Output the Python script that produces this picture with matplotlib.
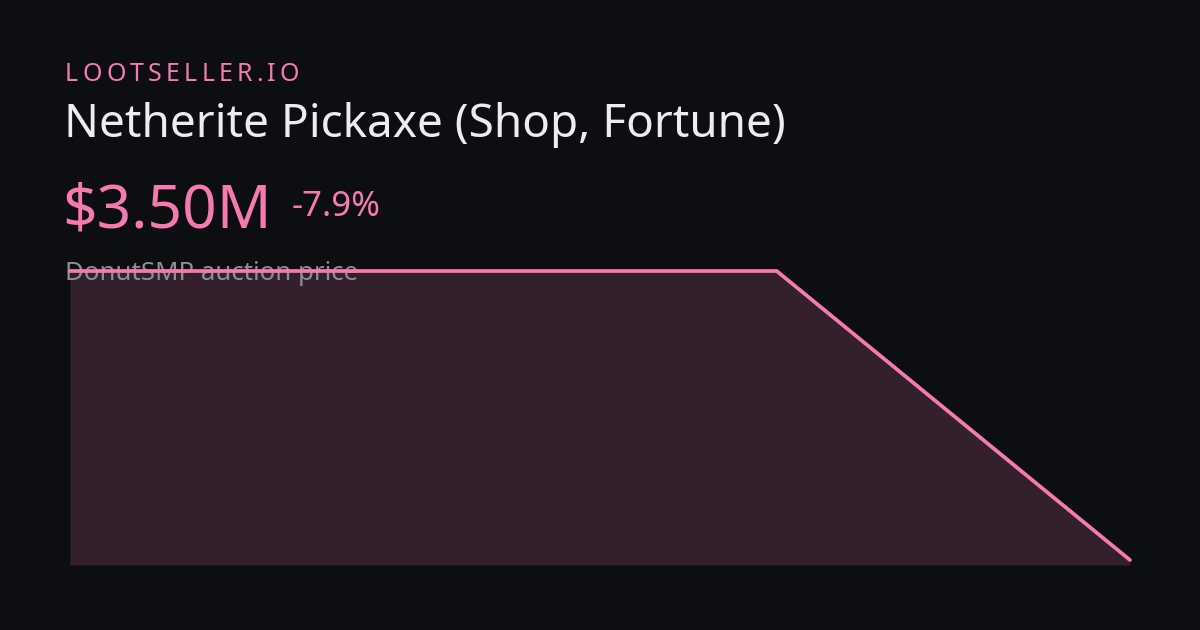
import matplotlib
matplotlib.use("Agg")
import matplotlib.pyplot as plt

# price points (millions), oldest first
prices = [3.80, 3.80, 3.80, 3.50]
points = list(range(len(prices)))

brand = "LOOTSELLER.IO"
title = "Netherite Pickaxe (Shop, Fortune)"
price_label = "$3.50M"
change_label = "-7.9%"
subtitle = "DonutSMP auction price"

bg = "#0d0e12"
pink = "#f47aaf"
fill_col = "#33202c"

plt.rcParams['font.family'] = ['Noto Sans', 'DejaVu Sans']

W, H = 1200, 630
fig = plt.figure(figsize=(12, 6.3), dpi=100)
fig.patch.set_facecolor(bg)

def px(x, y):
    # pixel coords (top-left origin) -> figure fraction
    return x / W, 1 - y / H

# chart area
ax = fig.add_axes([70 / W, (H - 565) / H, 1060 / W, 294 / H])
ax.set_facecolor(bg)
ax.fill_between(points, prices, 3.4948, color=fill_col, lw=0, zorder=1)
ax.plot(points, prices, color=pink, lw=2.7, solid_capstyle="round", solid_joinstyle="miter", clip_on=False, zorder=3)
ax.set_xlim(0, len(prices) - 1)
ax.set_ylim(3.4948, 3.80)
ax.axis("off")

# subtitle sits between the fill and the line
ax.text(*px(65, 280), subtitle, fontsize=18.6, color="#8a8f9a", va="baseline", ha="left",
        transform=fig.transFigure, zorder=2, clip_on=False)

# brand with wide letter spacing
fig.canvas.draw()
r = fig.canvas.get_renderer()
x = 65
for ch in brand:
    t = fig.text(*px(x, 81), ch, fontsize=18, color=pink, va="baseline", ha="left")
    bb = t.get_window_extent(renderer=r)
    x += bb.width + 4.2

fig.text(*px(64, 137), title, fontsize=33, color="#ececf1", va="baseline", ha="left")
fig.text(*px(62, 227), price_label, fontsize=43.5, color=pink, va="baseline", ha="left")
fig.text(*px(292, 216), change_label, fontsize=25, color=pink, va="baseline", ha="left")

fig.savefig("out.png", dpi=100, facecolor=bg)
